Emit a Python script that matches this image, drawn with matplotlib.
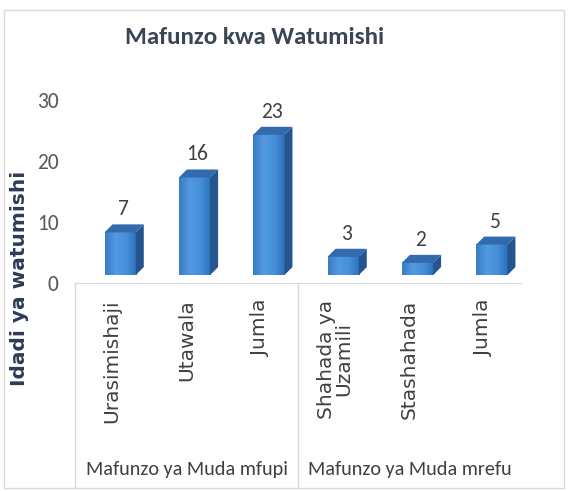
import numpy as np
import matplotlib.pyplot as plt
import matplotlib.transforms as mtransforms
from matplotlib.patches import Polygon, Rectangle
from matplotlib.colors import LinearSegmentedColormap

categories = ['Urasimishaji', 'Utawala', 'Jumla', 'Shahada ya\nUzamili', 'Stashahada', 'Jumla']
values = [7, 16, 23, 3, 2, 5]
groups = ['Mafunzo ya Muda mfupi', 'Mafunzo ya Muda mrefu']
group_sizes = [3, 3]
yticks = [0, 10, 20, 30]
title = 'Mafunzo kwa Watumishi'
ylabel = 'Idadi ya watumishi'

hfont = ['Carlito', 'DejaVu Sans']

W, H = 569, 491
fig = plt.figure(figsize=(W / 100, H / 100), dpi=100)
ax = fig.add_axes([75 / W, 1 - 283 / H, (521 - 75) / W, (283 - 86) / H])
ax.set_xlim(-0.5, len(values) - 0.5)
ax.set_ylim(-1.3, 31)

# pixels per data unit, to turn the 3d depth into data units
p0 = ax.transData.transform((0, 0))
p1 = ax.transData.transform((1, 1))
ppx, ppy = p1[0] - p0[0], p1[1] - p0[1]
dx, dy = 8 / ppx, 8 / ppy
shift = 8 / ppx
w = 0.42

front = LinearSegmentedColormap.from_list('front', ['#3a7cc6', '#5199e0', '#468fdb', '#2f70ba'])
grad = np.linspace(0, 1, 64).reshape(1, -1)
lab_off = mtransforms.ScaledTranslation(3 / 100, 13 / 100, fig.dpi_scale_trans)

for i, v in enumerate(values):
    x0 = i - w / 2 + shift
    ax.imshow(grad, cmap=front, extent=(x0, x0 + w, 0, v), aspect='auto',
              interpolation='bicubic', zorder=2)
    ax.add_patch(Polygon([(x0 + w, 0), (x0 + w + dx, dy), (x0 + w + dx, v + dy), (x0 + w, v)],
                         closed=True, fc='#25558f', lw=0, zorder=2))
    ax.add_patch(Polygon([(x0, v), (x0 + dx, v + dy), (x0 + w + dx, v + dy), (x0 + w, v)],
                         closed=True, fc='#3369ad', lw=0, zorder=3))
    ax.text(i + shift, v, str(v), transform=ax.transData + lab_off, ha='center', va='bottom',
            fontsize=15.5, family=hfont, color='#404040')

ax.set_xlim(-0.5, len(values) - 0.5)
ax.set_ylim(-1.3, 31)

for s in ['top', 'right', 'left']:
    ax.spines[s].set_visible(False)
ax.spines['bottom'].set_color('#d9d9d9')

ax.set_xticks(range(len(categories)))
ax.set_xticklabels(categories, rotation=90, fontsize=14.5, family='DejaVu Sans',
                   color='#404040', linespacing=0.9)
ax.tick_params(axis='x', length=0, pad=12)

ax.set_yticks(yticks)
ax.set_yticklabels([str(t) for t in yticks], fontsize=15.5, family=hfont, color='#595959')
ax.tick_params(axis='y', length=0, pad=12)
down = mtransforms.ScaledTranslation(0, -8 / 100, fig.dpi_scale_trans)
for lab in ax.get_yticklabels():
    lab.set_transform(lab.get_transform() + down)

# multi level category box
blend = mtransforms.blended_transform_factory(ax.transData, ax.transAxes)
box_bottom = -(488 - 283) / (283 - 86)
start = 0
for g, n in zip(groups, group_sizes):
    ax.plot([start - 0.5, start - 0.5], [0, box_bottom], transform=blend, color='#d9d9d9',
            lw=1, clip_on=False)
    ax.text(start + (n - 1) / 2, -(470 - 283) / (283 - 86), g, transform=blend, ha='center',
            va='center', fontsize=14.5, family=hfont, color='#404040')
    start += n

# chart border
fig.add_artist(Rectangle((4 / W, 1 - 488 / H), 560 / W, 478 / H, transform=fig.transFigure,
                         fill=False, ec='#d9d9d9', lw=1))

fig.text(255 / W, 1 - 37 / H, title, ha='center', va='center', fontsize=18,
         family=hfont, weight='bold', color='#3a4654')

fig.text(20 / W, 1 - 278 / H, ylabel, rotation=90, ha='center', va='center', fontsize=14.5,
         family='DejaVu Sans', weight='bold', color='#2e3b55')

fig.savefig('out.png', dpi=100)
